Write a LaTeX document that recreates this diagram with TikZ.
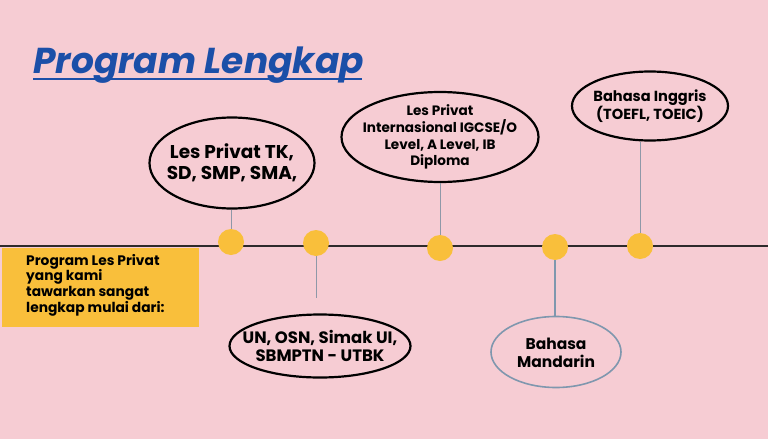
\documentclass[tikz,border=0pt]{standalone}
\usepackage{fontspec}
\setmainfont{Poppins}
\usetikzlibrary{shapes.geometric}
\definecolor{bgpink}{HTML}{F6CCD3}
\definecolor{dotyel}{HTML}{F9BF3B}
\definecolor{titleblue}{HTML}{1B4FA8}
\definecolor{linegray}{HTML}{8E98A8}
\definecolor{steel}{HTML}{7F97AE}
\definecolor{tline}{HTML}{2E2A2B}
\tikzset{
  dot/.style={circle,fill=dotyel,minimum size=26pt,inner sep=0pt},
  bubble/.style={ellipse,draw=black,line width=2.2pt,inner sep=0pt},
  bubblesteel/.style={ellipse,draw=steel,line width=1.6pt,inner sep=0pt},
  btext/.style={inner sep=0pt,align=center},
  stem/.style={draw=linegray,line width=1pt},
  stemsteel/.style={draw=steel,line width=1.6pt},
}
\begin{document}
\begin{tikzpicture}[x=1pt,y=-1pt]
\fill[bgpink] (0,0) rectangle (768,439);
\useasboundingbox (0,0) rectangle (768,439);
% title
\node[anchor=base west,inner sep=0pt,text=titleblue,font=\fontsize{36}{42}\selectfont\bfseries\itshape] (title) at (33,73) {Program Lengkap};
\draw[titleblue,line width=2pt] (33,79) -- (362,79);
% timeline
\coordinate (tl0) at (0,246);
\coordinate (tl1) at (768,246);
\draw[tline,line width=2.6pt] (tl0) -- (tl1);
% dots
\node[dot] (d1) at (231,242) {};
\node[dot] (d2) at (316,243) {};
\node[dot] (d3) at (440,248) {};
\node[dot] (d4) at (555,247) {};
\node[dot] (d5) at (640,246) {};
% yellow box
\node[fill=dotyel,minimum width=197pt,minimum height=79pt,anchor=north west,inner sep=0pt] (box) at (2,248) {};
\node[anchor=north west,align=left,inner sep=0pt,font=\fontsize{13.8}{15.6}\selectfont\bfseries] (boxt) at (26,254)
 {Program Les Privat\\yang kami\\tawarkan sangat\\lengkap mulai dari:};
% ellipses
\node[bubble,minimum width=165pt,minimum height=91pt] (e1) at (232,163) {};
\node[btext,font=\fontsize{18.5}{20.5}\selectfont\bfseries] (e1t) at (e1.center) {Les Privat TK,\\SD, SMP, SMA,};
\node[bubble,minimum width=197pt,minimum height=90pt] (e2) at (440,137) {};
\node[btext,font=\fontsize{13.6}{16.8}\selectfont\bfseries] (e2t) at (e2.center) {Les Privat\\Internasional IGCSE/O\\Level, A Level, IB\\Diploma};
\node[bubble,minimum width=156pt,minimum height=69pt] (e3) at (650,106) {};
\node[btext,font=\fontsize{14.6}{18.5}\selectfont\bfseries] (e3t) at (e3.center) {Bahasa Inggris\\(TOEFL, TOEIC)};
\node[bubble,minimum width=181pt,minimum height=63pt] (e4) at (320,346) {};
\node[btext,font=\fontsize{16.5}{18.5}\selectfont\bfseries] (e4t) at (e4.center) {UN, OSN, Simak UI,\\SBMPTN - UTBK};
\node[bubblesteel,minimum width=130pt,minimum height=71pt] (e5) at (556,352) {};
\node[btext,font=\fontsize{15.5}{18}\selectfont\bfseries] (e5t) at ([yshift=-1pt]e5.center) {Bahasa\\Mandarin};
% stems
\coordinate (s4) at (316,298);
\draw[stem] (e1.south -| d1) -- (d1.north);
\draw[stem] (e2.south -| d3) -- (d3.north);
\draw[stem] (e3.south -| d5) -- (d5.north);
\draw[stem] (d2.south) -- (s4);
\draw[stemsteel] (d4.south) -- (e5.north -| d4);
\end{tikzpicture}
\end{document}
